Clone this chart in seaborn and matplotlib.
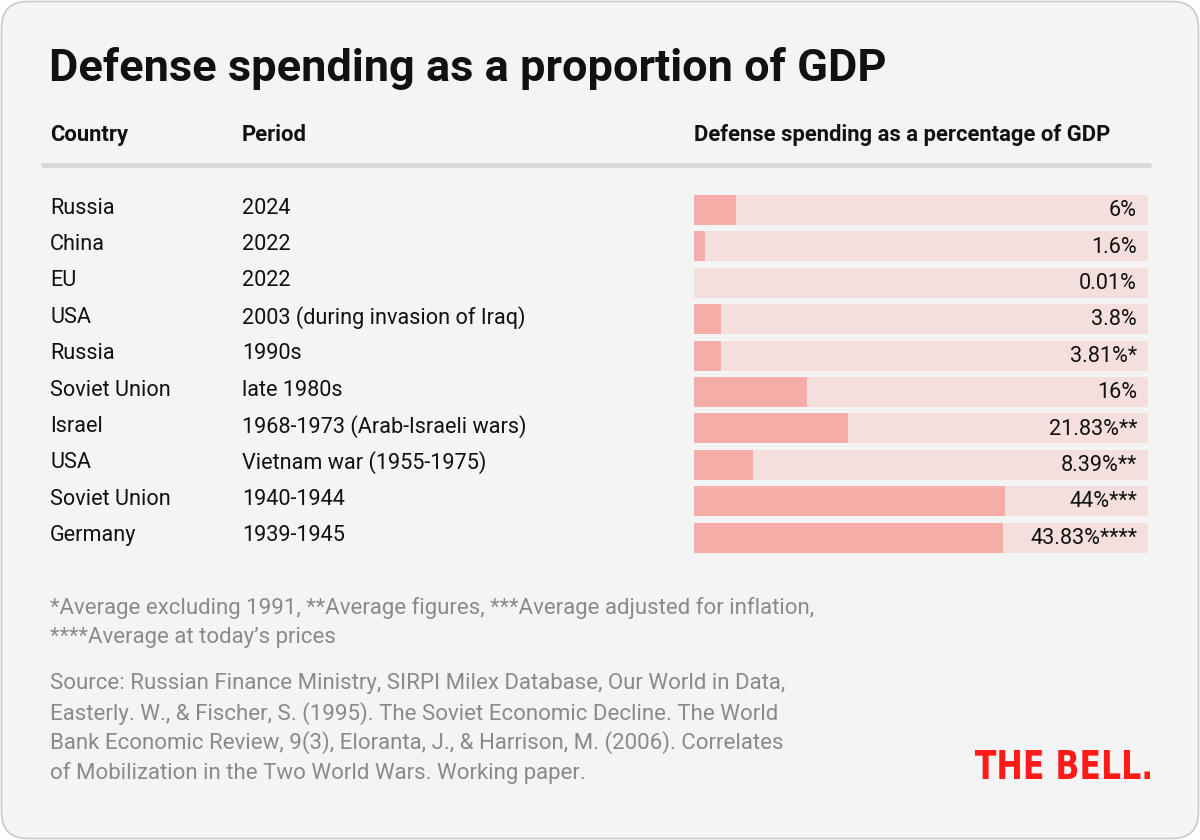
import matplotlib
matplotlib.use("Agg")
import matplotlib.pyplot as plt
import matplotlib.transforms as mtransforms
from matplotlib.patches import FancyBboxPatch, PathPatch
from matplotlib.textpath import TextPath
from matplotlib.font_manager import FontProperties
import seaborn as sns
import pandas as pd

countries = ["Russia", "China", "EU", "USA", "Russia", "Soviet Union", "Israel",
             "USA", "Soviet Union", "Germany"]
periods = ["2024", "2022", "2022", "2003 (during invasion of Iraq)", "1990s",
           "late 1980s", "1968-1973 (Arab-Israeli wars)", "Vietnam war (1955-1975)",
           "1940-1944", "1939-1945"]
values = [6, 1.6, 0.01, 3.8, 3.81, 16, 21.83, 8.39, 44, 43.83]
value_labels = ["6%", "1.6%", "0.01%", "3.8%", "3.81%*", "16%", "21.83%**",
                "8.39%**", "44%***", "43.83%****"]
scale_max = 64.3

footnotes = ["*Average excluding 1991, **Average figures, ***Average adjusted for inflation,",
             "****Average at today\u2019s prices"]
source = ["Source: Russian Finance Ministry, SIRPI Milex Database, Our World in Data,",
          "Easterly. W., & Fischer, S. (1995). The Soviet Economic Decline. The World",
          "Bank Economic Review, 9(3), Eloranta, J., & Harrison, M. (2006). Correlates",
          "of Mobilization in the Two World Wars. Working paper."]

df = pd.DataFrame({"row": [str(i) for i in range(len(values))], "value": values,
                   "track": [scale_max] * len(values)})

sns.set_theme(style="white")
plt.rcParams["font.family"] = ["Roboto", "DejaVu Sans"]

W, H = 1200, 840
fig = plt.figure(figsize=(12, 8.4), dpi=100, facecolor="white")

# card background
card = FancyBboxPatch((1.5 / W, 1.5 / H), 1 - 3 / W, 1 - 3 / H,
                      boxstyle="round,pad=0,rounding_size=0.022",
                      transform=fig.transFigure, facecolor="#f4f4f4",
                      edgecolor="#c9c9c9", linewidth=1.2, zorder=-5,
                      mutation_aspect=W / H)
fig.patches.append(card)

ax = fig.add_axes([694 / W, 1 - 555.8 / H, 454 / W, 364 / H])
ax.set_facecolor("none")
sns.barplot(data=df, x="track", y="row", color="#f5dfdd", saturation=1,
            width=0.82, ax=ax, orient="h", linewidth=0, edgecolor="none")
sns.barplot(data=df, x="value", y="row", color="#f6aca7", saturation=1,
            width=0.82, ax=ax, orient="h", linewidth=0, edgecolor="none")
ax.set_xlim(0, scale_max)
ax.set_ylim(len(values) - 0.5, -0.5)
ax.set_axis_off()

txt_kw = dict(fontsize=15.6, color="#111111", va="center")
blend = mtransforms.blended_transform_factory(fig.transFigure, ax.transData)
for i, (c, p, lab) in enumerate(zip(countries, periods, value_labels)):
    fig.text(50 / W, i - 0.05, c, transform=blend, **txt_kw)
    fig.text(242 / W, i - 0.05, p, transform=blend, **txt_kw)
    ax.text(0.976, i + 0.02, lab, transform=ax.get_yaxis_transform(),
            ha="right", **txt_kw)

# title and header
fig.text(49 / W, 1 - 68 / H, "Defense spending as a proportion of GDP",
         fontsize=32.5, fontweight="bold", color="#111111", va="center")
hdr = dict(fontsize=15.8, fontweight="bold", color="#111111", va="center")
fig.text(50 / W, 1 - 135 / H, "Country", **hdr)
fig.text(242 / W, 1 - 135 / H, "Period", **hdr)
fig.text(694 / W, 1 - 135 / H, "Defense spending as a percentage of GDP", **hdr)
fig.add_artist(plt.Line2D([43 / W, 1149 / W], [1 - 165 / H, 1 - 165 / H],
                          color="#d9d9d9", linewidth=3.5, transform=fig.transFigure))

# footnotes and source
note_kw = dict(fontsize=16, color="#8a8a8a", va="center")
for k, line in enumerate(footnotes):
    fig.text(50 / W, 1 - (608 + 30 * k) / H, line, **note_kw)
for k, line in enumerate(source):
    fig.text(50 / W, 1 - (684 + 29.5 * k) / H, line, **note_kw)

# logo, squeezed to the reference box
logo = TextPath((0, 0), "THE BELL.", size=40,
                prop=FontProperties(family="DejaVu Sans", weight="bold"))
bb = logo.get_extents()
x0, x1, ytop, ybot = 975, 1150, 750, 779
sx = (x1 - x0) / bb.width / W
sy = (ybot - ytop) / bb.height / H
tr = (mtransforms.Affine2D().translate(-bb.x0, -bb.y0).scale(sx, sy)
      .translate(x0 / W, 1 - ybot / H) + fig.transFigure)
fig.patches.append(PathPatch(logo, transform=tr, facecolor="#ff1a1a",
                             edgecolor="none"))

fig.savefig("out.png", dpi=100, facecolor="white")
